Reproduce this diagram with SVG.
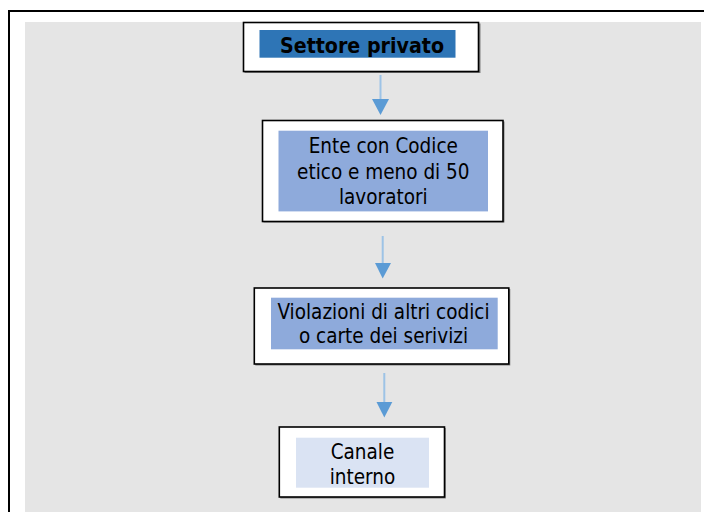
<svg xmlns="http://www.w3.org/2000/svg" width="704" height="512" viewBox="0 0 704 512">
<style>
.frame{fill:none;stroke:#000;stroke-width:2}
.box{fill:#fff;stroke:#000;stroke-width:1.6}
.shadow{fill:#808080}
.t{font-family:"DejaVu Sans Condensed","DejaVu Sans",sans-serif;font-size:20.5px;fill:#000;text-anchor:middle}
.tb{font-family:"DejaVu Sans Condensed","DejaVu Sans",sans-serif;font-size:21.2px;font-weight:bold;fill:#000;text-anchor:middle}
.ln{stroke:#9dc3e6;stroke-width:2;fill:none}
.hd{fill:#5b9bd5}
</style>
<rect x="0" y="0" width="704" height="512" fill="#fff"/>
<path class="frame" d="M9 512 V11 H704"/>
<rect x="25" y="22" width="676" height="490" fill="#e5e5e5"/>
<g id="connectors">
<line class="ln" x1="380.5" y1="75" x2="380.5" y2="100"/>
<polygon class="hd" points="372,99 389,99 380.5,115"/>
<line class="ln" x1="382.7" y1="236" x2="382.7" y2="264"/>
<polygon class="hd" points="375,263 391,263 382.7,278.5"/>
<line class="ln" x1="384.3" y1="373" x2="384.3" y2="403"/>
<polygon class="hd" points="376.5,402 392.3,402 384.3,417.5"/>
</g>
<g id="n1">
<rect class="shadow" x="244.5" y="23.5" width="236" height="49.5"/>
<rect class="box" x="243.5" y="22.5" width="235" height="49"/>
<rect x="259.5" y="30" width="196" height="27.7" fill="#2e75b6"/>
<text class="tb" x="362" y="53.3">Settore privato</text>
</g>
<g id="n2">
<rect class="shadow" x="263.5" y="121.5" width="241" height="101"/>
<rect class="box" x="262.5" y="120.5" width="240.5" height="101"/>
<rect x="278.5" y="130.7" width="209.5" height="80.7" fill="#8eaadb"/>
<text class="t" x="383.3" y="152.7">Ente con Codice</text>
<text class="t" x="383.3" y="178.5">etico e meno di 50</text>
<text class="t" x="383.3" y="204">lavoratori</text>
</g>
<g id="n3">
<rect class="shadow" x="255.3" y="289" width="255" height="76.5"/>
<rect class="box" x="254.3" y="288" width="254.5" height="76"/>
<rect x="271" y="297.7" width="226.7" height="51.6" fill="#8eaadb"/>
<text class="t" x="383.5" y="319.3">Violazioni di altri codici</text>
<text class="t" x="383.5" y="342.7">o carte dei serivizi</text>
</g>
<g id="n4">
<rect class="shadow" x="280.3" y="428" width="165.5" height="70.5"/>
<rect class="box" x="279.3" y="427" width="165.2" height="70"/>
<rect x="296" y="437.7" width="133" height="50" fill="#dae3f3"/>
<text class="t" x="362.5" y="459.3">Canale</text>
<text class="t" x="362.5" y="484.3">interno</text>
</g>
</svg>
